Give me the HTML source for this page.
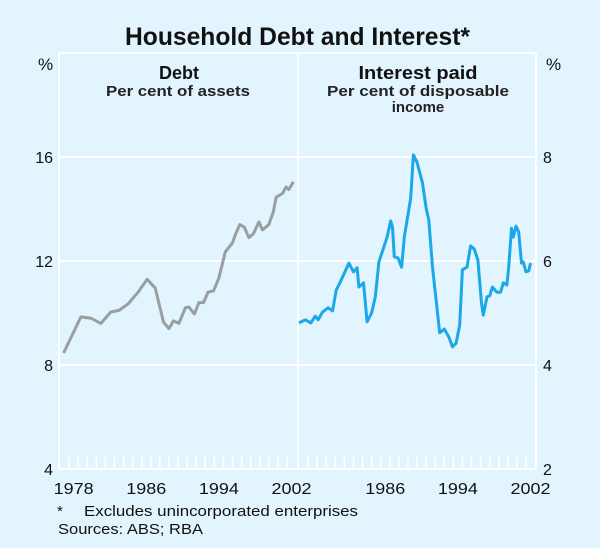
<!DOCTYPE html>
<html><head><meta charset="utf-8">
<style>
html,body{margin:0;padding:0;background:#e2f4fd;}
svg{display:block;font-family:"Liberation Sans",Arial,sans-serif;}
</style></head>
<body>
<svg id="chart" width="600" height="548" viewBox="0 0 600 548" xmlns="http://www.w3.org/2000/svg">
<rect x="0" y="0" width="600" height="548" fill="#e2f4fd"/>
<text x="125" y="45" font-size="25" font-weight="bold" fill="#111" textLength="345" lengthAdjust="spacingAndGlyphs">Household Debt and Interest*</text>
<text x="38" y="70" font-size="17" fill="#111">%</text>
<text x="546" y="70" font-size="17" fill="#111">%</text>
<text x="179" y="79" font-size="18" font-weight="bold" fill="#111" text-anchor="middle">Debt</text>
<text x="178" y="96" font-size="15" font-weight="bold" fill="#222" text-anchor="middle" textLength="144" lengthAdjust="spacingAndGlyphs">Per cent of assets</text>
<text x="418" y="79" font-size="18" font-weight="bold" fill="#111" text-anchor="middle" textLength="119" lengthAdjust="spacingAndGlyphs">Interest paid</text>
<text x="418" y="96" font-size="15" font-weight="bold" fill="#222" text-anchor="middle" textLength="182" lengthAdjust="spacingAndGlyphs">Per cent of disposable</text>
<text x="418" y="112" font-size="15" font-weight="bold" fill="#222" text-anchor="middle">income</text>
<g id="grid"></g>
<g id="series"></g>
<g id="labels"></g>
<text x="57" y="516" font-size="15" fill="#111">*</text>
<text x="84" y="516" font-size="15" fill="#111" textLength="274" lengthAdjust="spacingAndGlyphs">Excludes unincorporated enterprises</text>
<text x="58" y="534" font-size="15" fill="#111" textLength="145" lengthAdjust="spacingAndGlyphs">Sources: ABS; RBA</text>
</svg>
<script>
const debtYears = [1977.4,1979.3,1980.4,1981.5,1982.6,1983.5,1984.5,1985.6,1986.6,1987.5,1988.4,1989.0,1989.5,1990.1,1990.8,1991.2,1991.8,1992.3,1992.8,1993.3,1993.9,1994.5,1995.2,1996.0,1996.3,1996.8,1997.3,1997.8,1998.3,1998.9,1999.3,2000.0,2000.5,2000.8,2001.5,2001.9,2002.2,2002.7];
const debtValues = [8.46,9.85,9.8,9.6,10.04,10.1,10.35,10.8,11.3,10.95,9.65,9.4,9.7,9.6,10.2,10.23,9.96,10.4,10.4,10.8,10.85,11.35,12.35,12.7,13.0,13.4,13.3,12.9,13.05,13.5,13.2,13.4,13.9,14.45,14.6,14.85,14.75,15.05];
const interestYears = [1977.0,1977.7,1978.3,1978.8,1979.1,1979.6,1980.2,1980.7,1981.1,1981.5,1981.9,1982.5,1983.0,1983.4,1983.6,1984.1,1984.5,1985.0,1985.4,1985.8,1986.7,1987.1,1987.3,1987.5,1987.9,1988.3,1988.6,1989.3,1989.6,1990.0,1990.6,1991.0,1991.3,1991.7,1992.5,1993.0,1993.5,1993.9,1994.3,1994.7,1995.0,1995.5,1995.9,1996.3,1996.7,1997.1,1997.3,1997.7,1998.0,1998.3,1998.8,1999.2,1999.5,1999.9,2000.1,2000.4,2000.6,2000.9,2001.2,2001.5,2001.7,2002.0,2002.3,2002.5];
const interestValues = [4.81,4.87,4.81,4.94,4.87,5.02,5.1,5.04,5.44,5.58,5.73,5.96,5.79,5.87,5.5,5.58,4.83,5.0,5.31,5.98,6.46,6.77,6.65,6.08,6.06,5.88,6.46,7.21,8.04,7.9,7.5,7.02,6.79,5.88,4.62,4.69,4.54,4.35,4.42,4.77,5.83,5.88,6.29,6.23,6.02,5.19,4.96,5.31,5.33,5.5,5.4,5.4,5.58,5.54,5.88,6.63,6.46,6.67,6.56,5.96,5.98,5.79,5.81,5.96];
const leftTicks = [4,8,12,16];
const rightTicks = [2,4,6,8];
const leftYearLabels = [1978,1986,1994,2002];
const rightYearLabels = [1986,1994,2002];

const NS = "http://www.w3.org/2000/svg";
const TOP = 53, BOTTOM = 469;
const LX0 = 60, RX0 = 299, PXY = 9.08, Y0 = 1977;
function xLeft(y){ return LX0 + (y - Y0) * PXY; }
function xRight(y){ return RX0 + (y - Y0) * PXY; }
function yLeft(v){ return BOTTOM - (v - 4) / 16 * (BOTTOM - TOP); }
function yRight(v){ return BOTTOM - (v - 2) / 8 * (BOTTOM - TOP); }
function mk(tag, attrs, parent){ const e = document.createElementNS(NS, tag); for (const k in attrs) e.setAttribute(k, attrs[k]); parent.appendChild(e); return e; }

const grid = document.getElementById('grid');
const labels = document.getElementById('labels');
const series = document.getElementById('series');

leftTicks.forEach((t, i) => {
  const y = yLeft(t);
  const l = mk('line', {x1: 59, x2: 536, y1: y, y2: y, stroke: '#fff', 'stroke-width': 2}, grid);
  
  
  const tx = mk('text', {x: 53, y: y + 6, 'font-size': 16, fill: '#111', 'text-anchor': 'end'}, labels);
  tx.textContent = t;
  
  
});
rightTicks.forEach(t => {
  const y = yRight(t);
  const tx = mk('text', {x: 543, y: y + 6, 'font-size': 16, fill: '#111'}, labels);
  tx.textContent = t;
  
  
});
[59, 298, 536].forEach(x => {
  const l = mk('line', {x1: x, x2: x, y1: TOP, y2: BOTTOM, stroke: '#fff', 'stroke-width': 2}, grid);
  
  
});
const topl = mk('line', {x1: 59, x2: 536, y1: TOP, y2: TOP, stroke: '#fff', 'stroke-width': 2}, grid);


for (let yr = 1978; yr <= 2002; yr++) {
  [xLeft(yr), xRight(yr)].forEach(x => {
    const l = mk('line', {x1: x, x2: x, y1: 456, y2: BOTTOM, stroke: '#fff', 'stroke-width': 1.5}, grid);
    
    
  });
}
leftYearLabels.forEach(yr => {
  const tx = mk('text', {x: xLeft(yr + 0.5), y: 494, 'font-size': 16, fill: '#111', 'text-anchor': 'middle', textLength: 40, lengthAdjust: 'spacingAndGlyphs'}, labels);
  tx.textContent = yr;
  
  
});
rightYearLabels.forEach(yr => {
  const tx = mk('text', {x: xRight(yr + 0.5), y: 494, 'font-size': 16, fill: '#111', 'text-anchor': 'middle', textLength: 40, lengthAdjust: 'spacingAndGlyphs'}, labels);
  tx.textContent = yr;
  
  
});

const dp = debtYears.map((y, i) => xLeft(y).toFixed(1) + ',' + yLeft(debtValues[i]).toFixed(1)).join(' ');
const debtLine = mk('polyline', {points: dp, fill: 'none', stroke: '#9a9ea1', 'stroke-width': 3, 'stroke-linejoin': 'round'}, series);



const ip = interestYears.map((y, i) => xRight(y).toFixed(1) + ',' + yRight(interestValues[i]).toFixed(1)).join(' ');
const intLine = mk('polyline', {points: ip, fill: 'none', stroke: '#1aa8e8', 'stroke-width': 3, 'stroke-linejoin': 'round'}, series);


</script>
</body></html>
